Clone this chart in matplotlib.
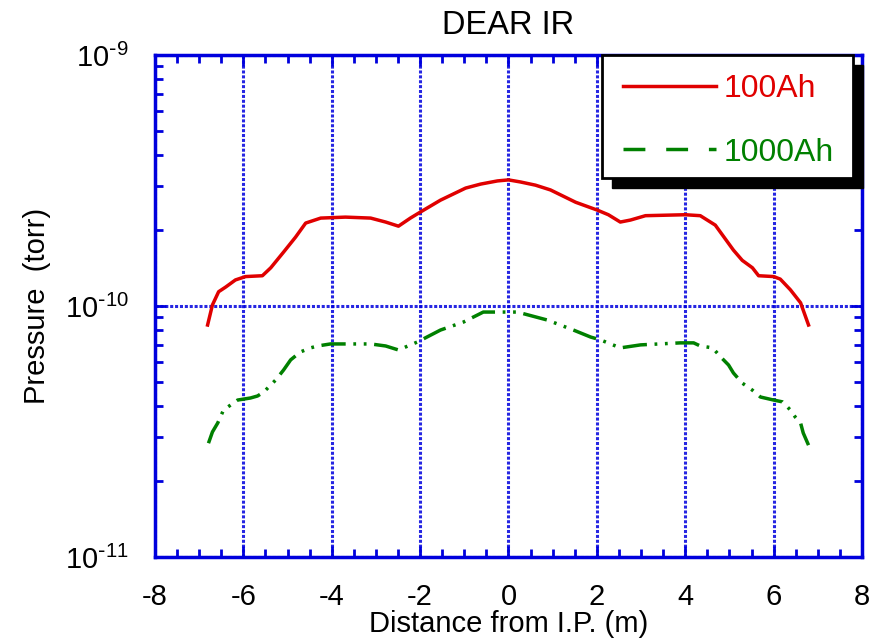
import matplotlib
matplotlib.use("Agg")
import matplotlib.pyplot as plt
from matplotlib.lines import Line2D
from matplotlib.patches import Rectangle
from matplotlib.ticker import MultipleLocator, LogLocator, FuncFormatter
import numpy as np

plt.rcParams['font.family'] = ['Liberation Sans', 'DejaVu Sans']
plt.rcParams['axes.unicode_minus'] = False

# Datos (presion en unidades de 1e-10 torr)
x_100 = [-6.81, -6.70, -6.56, -6.40, -6.18, -5.95, -5.57, -5.38, -5.09, -4.82,
         -4.59, -4.25, -3.69, -3.12, -2.78, -2.49, -2.22, -1.99, -1.54, -0.97,
         -0.63, -0.25, 0.00, 0.27, 0.61, 0.95, 1.52, 2.01, 2.26, 2.53,
         2.76, 3.10, 4.00, 4.34, 4.68, 5.09, 5.29, 5.52, 5.66, 6.00,
         6.15, 6.38, 6.61, 6.79]
p_100 = [0.84, 1.01, 1.14, 1.19, 1.27, 1.31, 1.32, 1.42, 1.64, 1.88,
         2.14, 2.24, 2.26, 2.24, 2.16, 2.08, 2.24, 2.37, 2.64, 2.95,
         3.06, 3.15, 3.18, 3.12, 3.03, 2.90, 2.59, 2.41, 2.31, 2.16,
         2.20, 2.29, 2.31, 2.29, 2.10, 1.67, 1.52, 1.42, 1.32, 1.31,
         1.28, 1.16, 1.03, 0.84]

x_1000 = [-6.79, -6.70, -6.58, -6.45, -6.29, -6.13, -5.84, -5.68, -5.54, -5.27,
          -5.09, -4.93, -4.71, -4.48, -4.32, -4.03, -3.12, -2.78, -2.49, -2.06,
          -1.54, -1.02, -0.57, 0.20, 0.88, 1.47, 1.86, 2.08, 2.53, 2.99,
          3.89, 4.19, 4.34, 4.62, 4.80, 4.98, 5.09, 5.29, 5.52, 5.70,
          6.00, 6.20, 6.38, 6.49, 6.61, 6.67, 6.79]
p_1000 = [0.284, 0.315, 0.342, 0.385, 0.403, 0.422, 0.430, 0.438, 0.454, 0.507,
          0.556, 0.610, 0.656, 0.681, 0.693, 0.706, 0.706, 0.693, 0.668, 0.719,
          0.802, 0.863, 0.946, 0.946, 0.879, 0.802, 0.752, 0.733, 0.681, 0.700,
          0.713, 0.713, 0.693, 0.681, 0.627, 0.582, 0.541, 0.493, 0.462, 0.434,
          0.422, 0.415, 0.385, 0.361, 0.342, 0.312, 0.279]

etiquetas = ["100Ah", "1000Ah"]
colores = ["#e00000", "#008000"]
azul = "#0000dd"


def etiqueta_log(v, pos):
    # 10 con exponente, usando guion normal como en el original
    e = int(round(np.log10(v)))
    signo = r"\text{-}" if e < 0 else ""
    return r"$\mathdefault{10^{%s%d}}$" % (signo, abs(e))


W, H = 870, 641
fig = plt.figure(figsize=(W / 100, H / 100), dpi=100)
ax = fig.add_axes([155 / W, 1 - 557 / H, 707 / W, 502 / H])

ax.plot(x_100, np.array(p_100) * 1e-10, color=colores[0], lw=2.5)
ax.plot(x_1000, np.array(p_1000) * 1e-10, color=colores[1], lw=2.5,
        dashes=(7, 2.2, 0.8, 2.2, 0.8, 2.2))

ax.set_yscale('log')
ax.set_xlim(-8, 8)
ax.set_ylim(1e-11, 1e-9)
ax.xaxis.set_major_locator(MultipleLocator(2))
ax.xaxis.set_minor_locator(MultipleLocator(0.5))
ax.yaxis.set_major_locator(LogLocator(base=10))
ax.yaxis.set_minor_locator(LogLocator(base=10, subs=np.arange(2, 10)))
ax.yaxis.set_major_formatter(FuncFormatter(etiqueta_log))

for s in ax.spines.values():
    s.set_color(azul)
    s.set_linewidth(2.5)
ax.tick_params(which='both', direction='in', top=True, right=True, color=azul, width=2)
ax.tick_params(which='major', length=8, labelsize=21)
ax.tick_params(which='minor', length=5.5)
ax.tick_params(axis='x', which='major', pad=19)
ax.tick_params(axis='y', which='major', pad=19)
ax.grid(True, which='major', color=azul, linestyle=(0, (1, 0.6)), lw=2.2, alpha=0.85)

ax.set_xlabel("Distance from I.P. (m)", fontsize=21, labelpad=-1)
ax.set_ylabel("Pressure  (torr)", fontsize=21, labelpad=10)
ax.set_title("DEAR IR", fontsize=23.5, pad=15)

# Caja de la leyenda con sombra
tr = fig.transFigure
fig.patches.append(Rectangle((612 / W, 1 - 188 / H), 251 / W, 123 / H, transform=tr,
                             facecolor='black', edgecolor='black', zorder=5))
fig.patches.append(Rectangle((602 / W, 1 - 178 / H), 251 / W, 123 / H, transform=tr,
                             facecolor='white', edgecolor='black', lw=2, zorder=6))
handles = [Line2D([], [], color=colores[0], lw=2.5),
           Line2D([], [], color=colores[1], lw=2.5, dashes=(6.3, 6.0))]
leg = fig.legend(handles, etiquetas, loc='upper left', bbox_to_anchor=(623 / W, 1 - 74 / H),
                 frameon=False, fontsize=23, handlelength=2.9, handletextpad=0.26,
                 labelspacing=1.05, borderpad=0, borderaxespad=0, labelcolor=colores)
leg.set_zorder(7)

fig.savefig("out.png", dpi=100)
